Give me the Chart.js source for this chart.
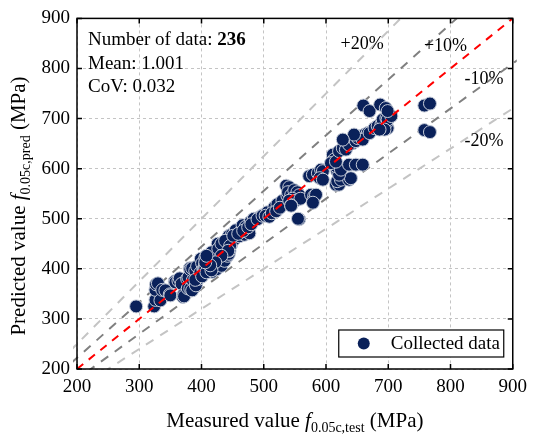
<!DOCTYPE html>
<html>
<head>
<meta charset="utf-8">
<script src="https://cdn.jsdelivr.net/npm/chart.js@4.4.1/dist/chart.umd.min.js"></script>
<style>
  html, body { margin: 0; padding: 0; background: #fff; }
  #wrap { width: 534px; height: 435px; position: relative; }
</style>
</head>
<body>
<div id="wrap"><canvas id="chart"></canvas></div>
<script>
// axis ticks (MPa), same for both axes
const axisTicks = [200, 300, 400, 500, 600, 700, 800, 900];

// measured vs predicted strength (MPa)
const measured = [
  295, 324, 326, 326, 327, 330, 334, 337, 342, 349, 350, 357, 358, 363, 365, 368, 370, 371, 372, 377,
  378, 379, 381, 382, 382, 385, 385, 386, 390, 391, 393, 395, 398, 399, 401, 403, 404, 406, 406, 406,
  406, 408, 409, 414, 414, 416, 417, 422, 423, 424, 426, 426, 427, 427, 432, 432, 434, 437, 439, 440,
  441, 442, 444, 444, 445, 448, 449, 453, 455, 461, 463, 466, 469, 471, 477, 479, 484, 493, 498,
  416, 427, 432, 438, 446, 443, 432, 422, 451, 459, 467, 475, 480, 490, 498, 506, 517, 522, 530, 538,
  546, 554, 406, 390, 401, 408, 416, 414, 406, 408, 543, 557, 503, 509, 513, 520, 526,
  536, 541, 539, 544, 549, 554, 557, 546, 541, 551, 559, 544, 555, 573, 579, 587, 592, 595, 590, 595,
  576, 581, 579, 584, 616, 621, 618, 624, 637, 640, 618, 621, 616, 624, 611, 613, 608, 616, 637, 648,
  659, 621, 627, 632, 643, 637, 648, 651, 656, 662, 667, 659, 645, 627, 670, 678, 683, 689, 694, 699,
  697, 691, 697, 699, 705, 694, 686, 660, 670, 687, 696, 699, 758, 767, 758, 767, 579, 544
];
const predicted = [
  325, 325, 338, 358, 369, 371, 337, 358, 357, 349, 347, 375, 373, 376, 381, 370, 344, 348, 345, 380,
  361, 383, 401, 360, 399, 357, 401, 377, 396, 367, 405, 380, 392, 420, 411, 399, 397, 393, 407, 410,
  422, 426, 409, 399, 429, 403, 394, 435, 401, 399, 411, 450, 409, 438, 406, 449, 440, 416, 456, 449,
  443, 426, 430, 466, 436, 449, 469, 459, 477, 465, 474, 487, 468, 484, 471, 494, 500, 503, 507,
  433, 440, 450, 456, 446, 436, 426, 413, 466, 470, 476, 483, 489, 499, 506, 513, 523, 529, 536, 546,
  549, 552, 400, 378, 385, 393, 397, 407, 413, 426, 529, 499, 506, 504, 511, 515, 522,
  566, 563, 553, 547, 557, 553, 547, 540, 536, 536, 540, 527, 500, 585, 588, 591, 598, 595, 581, 578,
  548, 545, 535, 548, 568, 568, 575, 578, 578, 581, 595, 588, 605, 598, 628, 618, 611, 614, 608, 608,
  608, 635, 641, 638, 651, 648, 655, 661, 665, 668, 671, 658, 668, 658, 671, 681, 685, 688, 685, 681,
  691, 698, 701, 698, 705, 678, 678, 726, 715, 728, 721, 715, 726, 730, 677, 673, 532, 526
];

// error bands: predicted/measured ratio of each guide line
const bandLabels = ['+20%', '+10%', '-10%', '-20%'];
const bandSlopes = [1 / 0.8, 1 / 0.9, 0.9, 0.8];
const bandColors = ['#c4c4c4', '#808080', '#808080', '#c4c4c4'];
// where each band label sits, in data units
const bandLabelX = [658, 792, 854, 854];
const bandLabelY = [848, 844, 779, 655];

const statLines = [['Number of data: ', '236'], ['Mean: ', '1.001'], ['CoV: ', '0.032']];

const SERIF = "'Liberation Serif', 'Times New Roman', serif";
Chart.defaults.font.family = SERIF;
Chart.defaults.color = '#000';

const points = measured.map((m, i) => ({ x: m, y: predicted[i] }));

const bandSets = bandSlopes.map((s, i) => ({
  type: 'line',
  data: [{ x: 150, y: 150 * s }, { x: 950, y: 950 * s }],
  borderColor: bandColors[i],
  borderWidth: 2,
  borderDash: [9, 8],
  pointRadius: 0,
  clip: { left: 4, top: 0, right: 4, bottom: 0 },
  order: 2
}));

// draws a run of text pieces (normal / italic / subscript) centred on cx
function richText(ctx, parts, cx, baseY) {
  let total = 0;
  parts.forEach(p => { ctx.font = p.font; p.w = ctx.measureText(p.text).width; total += p.w; });
  let xPos = cx - total / 2;
  ctx.textAlign = 'left';
  ctx.textBaseline = 'alphabetic';
  parts.forEach(p => {
    ctx.font = p.font;
    ctx.fillText(p.text, xPos, baseY + (p.dy || 0));
    xPos += p.w;
  });
}

const decor = {
  id: 'decor',
  afterDraw(chart) {
    const { ctx, chartArea: a, scales: { x, y } } = chart;
    ctx.save();
    ctx.fillStyle = '#000';
    ctx.strokeStyle = '#000';

    // frame + inward ticks on all four sides
    ctx.lineWidth = 1.5;
    ctx.strokeRect(a.left, a.top, a.right - a.left, a.bottom - a.top);
    ctx.beginPath();
    axisTicks.forEach(v => {
      const px = x.getPixelForValue(v);
      ctx.moveTo(px, a.bottom); ctx.lineTo(px, a.bottom - 5);
      ctx.moveTo(px, a.top); ctx.lineTo(px, a.top + 5);
      const py = y.getPixelForValue(v);
      ctx.moveTo(a.left, py); ctx.lineTo(a.left + 5, py);
      ctx.moveTo(a.right, py); ctx.lineTo(a.right - 5, py);
    });
    ctx.stroke();

    // axis titles
    const big = '21px ' + SERIF, ital = 'italic 21px ' + SERIF, sub = '14px ' + SERIF;
    richText(ctx, [
      { text: 'Measured value ', font: big },
      { text: 'f', font: ital },
      { text: '0.05c,test', font: sub, dy: 5 },
      { text: ' (MPa)', font: big }
    ], (a.left + a.right) / 2, 427);

    ctx.save();
    ctx.translate(25, 206);
    ctx.rotate(-Math.PI / 2);
    richText(ctx, [
      { text: 'Predicted value ', font: big },
      { text: 'f', font: ital },
      { text: '0.05c,pred', font: sub, dy: 5 },
      { text: ' (MPa)', font: big }
    ], 0, 0);
    ctx.restore();

    // stats box text
    ctx.textAlign = 'left';
    ctx.textBaseline = 'alphabetic';
    const baselines = [45, 69, 92];
    statLines.forEach((line, i) => {
      ctx.font = '19px ' + SERIF;
      ctx.fillText(line[0], a.left + 11, baselines[i]);
      const w = ctx.measureText(line[0]).width;
      ctx.font = (i === 0 ? 'bold ' : '') + '19px ' + SERIF;
      ctx.fillText(line[1], a.left + 11 + w, baselines[i]);
    });

    // band labels
    ctx.font = '18px ' + SERIF;
    ctx.textAlign = 'center';
    ctx.textBaseline = 'middle';
    bandLabels.forEach((t, i) => {
      ctx.fillText(t, x.getPixelForValue(bandLabelX[i]), y.getPixelForValue(bandLabelY[i]));
    });

    // legend
    const bx = a.right - 174, by = a.bottom - 39, bw = 165, bh = 27;
    ctx.fillStyle = '#fff';
    ctx.fillRect(bx, by, bw, bh);
    ctx.lineWidth = 1.2;
    ctx.strokeRect(bx, by, bw, bh);
    ctx.beginPath();
    ctx.arc(bx + 25, by + bh / 2, 6, 0, Math.PI * 2);
    ctx.fillStyle = '#0a215a';
    ctx.fill();
    ctx.fillStyle = '#000';
    ctx.font = '19px ' + SERIF;
    ctx.textAlign = 'left';
    ctx.fillText('Collected data', bx + 52, by + bh / 2 + 1);
    ctx.restore();
  }
};

new Chart(document.getElementById('chart'), {
  type: 'scatter',
  data: {
    datasets: [
      {
        type: 'line',
        data: [{ x: 200, y: 200 }, { x: 900, y: 900 }],
        borderColor: '#ff0000',
        borderWidth: 2,
        borderDash: [8, 7],
        pointRadius: 0,
        order: 0
      },
      {
        label: 'Collected data',
        data: points,
        backgroundColor: '#0a215a',
        borderColor: '#c6ccd8',
        borderWidth: 1,
        pointRadius: 6.5,
        order: 1
      },
      ...bandSets
    ]
  },
  options: {
    responsive: true,
    maintainAspectRatio: false,
    animation: false,
    layout: { padding: { top: 17, right: 17, left: 0, bottom: 0 } },
    plugins: { legend: { display: false }, tooltip: { enabled: false } },
    scales: {
      x: {
        type: 'linear', min: 200, max: 900,
        afterFit: s => { s.height = 66; },
        afterBuildTicks: s => { s.ticks = axisTicks.map(v => ({ value: v })); },
        ticks: { font: { size: 19 }, padding: 7, color: '#000' },
        grid: { color: '#c4c4c4', lineWidth: 1, drawTicks: false },
        border: { display: false, dash: [3, 3] }
      },
      y: {
        type: 'linear', min: 200, max: 900,
        afterFit: s => { s.width = 77; },
        afterBuildTicks: s => { s.ticks = axisTicks.map(v => ({ value: v })); },
        ticks: { font: { size: 19 }, padding: 7, color: '#000' },
        grid: { color: '#c4c4c4', lineWidth: 1, drawTicks: false },
        border: { display: false, dash: [3, 3] }
      }
    }
  },
  plugins: [decor]
});
</script>
</body>
</html>
